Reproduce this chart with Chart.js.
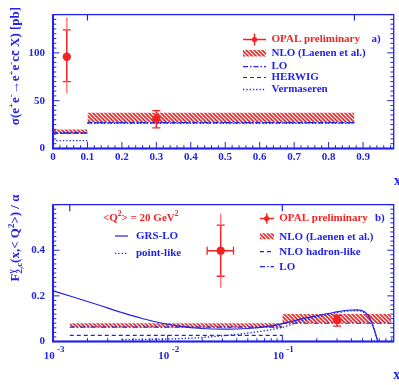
<!DOCTYPE html>
<html><head><meta charset="utf-8">
<script src="https://cdn.jsdelivr.net/npm/chart.js@4.4.1/dist/chart.umd.min.js"></script>
<style>
html,body{margin:0;padding:0;background:#fff;overflow:hidden;width:399px;height:385px}
#w1{position:absolute;left:0;top:0;width:399px;height:190px}
#w2{position:absolute;left:0;top:190px;width:399px;height:195px}
</style></head><body>
<div id="w1"><canvas id="c1"></canvas></div>
<div id="w2"><canvas id="c2"></canvas></div>
<script>
// ---------------- data: panel a) ----------------
const topBinLo   = [0, 0.1];
const topBinHi   = [0.1, 0.875];
const topNloLow  = [15.2, 27.5];
const topNloHigh = [19.8, 37.5];
const topLO      = [16.4, 27.2];
const topHerwig  = [16.0, 26.8];
const topVerm    = [8.2, 26.4];
const topOpalX   = [0.04, 0.30];
const topOpalY   = [96, 31];
const topStatLo  = [70, 21.5];
const topStatHi  = [124, 39.5];
const topTotLo   = [58, 21.5];
const topTotHi   = [137, 39.5];
const topBinEdges = [0.1, 0.875];
const topXTicks  = [0,0.1,0.2,0.3,0.4,0.5,0.6,0.7,0.8,0.9];
const topXLabels = ['0','0.1','0.2','0.3','0.4','0.5','0.6','0.7','0.8','0.9'];
const topYTicks  = [0,50,100];
const topYLabels = ['0','50','100'];

// ---------------- data: panel b) ----------------
const botBinLo   = [0.0014, 0.1];
const botBinHi   = [0.1, 0.89];
const botNloLow  = [0.061, 0.080];
const botNloHigh = [0.080, 0.121];
const botLO      = [0.063, 0.080];
const botHadron  = [0.027];
const botOpalX   = [0.029, 0.30];
const botOpalY   = [0.398, 0.094];
const botStatLo  = [0.286, 0.067];
const botStatHi  = [0.51, 0.114];
const botTotLo   = [0.235, 0.067];
const botTotHi   = [0.56, 0.114];
const botXErrLo  = [0.0221, 0.30];
const botXErrHi  = [0.0375, 0.30];
const botBinEdges = [0.0014, 0.1];
const grsX = [0.001,0.0015,0.0025,0.004,0.006,0.009,0.013,0.02,0.03,0.05,0.075,0.1,0.15,0.2,0.28,0.37,0.45,0.52,0.58,0.63,0.68];
const grsY = [0.222,0.195,0.160,0.127,0.101,0.080,0.066,0.057,0.054,0.057,0.066,0.078,0.100,0.113,0.127,0.137,0.139,0.130,0.102,0.055,0.0];
const plX  = [0.004,0.008,0.015,0.023,0.045,0.076,0.1,0.15,0.2,0.28,0.37,0.45,0.52,0.58,0.63,0.68];
const plY  = [0.008,0.010,0.014,0.020,0.034,0.050,0.062,0.092,0.108,0.123,0.133,0.135,0.127,0.100,0.054,0.0];
const botXTicks  = [0.001,0.01,0.1];
const botXExp    = ['-3','-2','-1'];
const botYTicks  = [0,0.2,0.4];
const botYLabels = ['0','0.2','0.4'];

// ---------------- styles ----------------
const BLUE = '#2222ea', RED = '#f42222', LRED = '#ff7c7c';
const FONT = "'Liberation Serif','Times New Roman',serif";
const f = (s)=>`bold ${s}px ${FONT}`;

function makeHatch(){
  const c=document.createElement('canvas'); c.width=4; c.height=4;
  const g=c.getContext('2d');
  g.strokeStyle='#f02828'; g.lineWidth=1.7;
  g.beginPath(); g.moveTo(-1,-1); g.lineTo(5,5); g.moveTo(-1,3); g.lineTo(1,5); g.moveTo(3,-1); g.lineTo(5,1); g.stroke();
  return g.createPattern(c,'repeat');
}
const HATCH = makeHatch();

const seg = (x1,y1,x2,y2)=>[{x:x1,y:y1},{x:x2,y:y2}];
function L(data,color,dash,width,order){
  return {data, borderColor:color, borderWidth:width, borderDash:dash||[], pointRadius:0,
          fill:false, tension:0, order:order===undefined?1:order};
}
function band(ds,x1,x2,lo,hi){
  ds.push(L(seg(x1,lo,x2,lo),'rgba(0,0,0,0)',[],0,20));
  const u=L(seg(x1,hi,x2,hi),'rgba(0,0,0,0)',[],0,20); u.fill='-1'; u.backgroundColor=HATCH; ds.push(u);
}
function opal(ds,x,y,sLo,sHi,tLo,tHi,xLo,xHi){
  if(tLo<sLo) ds.push(L(seg(x,tLo,x,sLo),LRED,[],1.5,0));
  if(tHi>sHi) ds.push(L(seg(x,sHi,x,tHi),LRED,[],1.5,0));
  ds.push(L(seg(x,sLo,x,sHi),RED,[],1.5,0));
  ds.push({data:seg(x,sLo,x,sHi),showLine:false,pointStyle:'line',pointRadius:4,pointBorderColor:RED,pointBorderWidth:1.3,order:0});
  if(xLo!==undefined && xLo<xHi){
    ds.push(L(seg(xLo,y,xHi,y),RED,[],1.5,0));
    ds.push({data:seg(xLo,y,xHi,y),showLine:false,pointStyle:'line',pointRotation:90,pointRadius:4,pointBorderColor:RED,pointBorderWidth:1.3,order:0});
  }
  ds.push({data:[{x,y}],showLine:false,pointRadius:4.2,pointBackgroundColor:RED,pointBorderColor:RED,pointBorderWidth:0,order:0});
}
const DASH_LO=[5,2,1.5,2], DASH_HW=[4,3], DASH_DOT=[1.3,2];

// ---------------- rich text ----------------
function drawRich(ctx,segs,x,y,size,color,align,rot){
  ctx.save(); ctx.translate(x,y); if(rot) ctx.rotate(rot);
  ctx.fillStyle=color; ctx.textBaseline='middle'; ctx.textAlign='left';
  let cx=0,pend=0; const out=[];
  for(const s of segs){
    const sz=s.v?size*0.68:size; ctx.font=f(sz);
    const w=ctx.measureText(s.t).width;
    out.push({t:s.t,sz,x:cx,dy:s.v==='u'?-size*0.36:s.v==='d'?size*0.26:0});
    if(s.stack){pend=w;} else {cx+=Math.max(w,pend); pend=0;}
  }
  const x0=align==='center'?-cx/2:align==='right'?-cx:0;
  for(const s of out){ctx.font=f(s.sz); ctx.fillText(s.t,x0+s.x,s.dy);}
  ctx.restore();
}
function sample(ctx,x1,x2,y,color,dash,w){
  ctx.save(); ctx.strokeStyle=color; ctx.lineWidth=w||1.2; ctx.setLineDash(dash||[]);
  ctx.beginPath(); ctx.moveTo(x1,y); ctx.lineTo(x2,y); ctx.stroke(); ctx.restore();
}
function txt(ctx,t,x,y,size,color,align){
  ctx.save(); ctx.font=f(size); ctx.fillStyle=color; ctx.textAlign=align||'left'; ctx.textBaseline='middle';
  ctx.fillText(t,x,y); ctx.restore();
}

function linTicks(step,major,max){const r=[];for(let i=0;i*step<=max+1e-9;i++){const v=i*step;r.push([v,Math.abs(v/major-Math.round(v/major))<1e-6]);}return r;}
function logTicks(){const r=[];for(let d=-3;d<=-1;d++)for(let k=1;k<=9;k++)r.push([k*Math.pow(10,d),k===1]);return r;}

const DECO = {};

// ---------------- frame / ticks / text plugin ----------------
const deco = {
  id:'deco',
  afterDraw(chart){
    const o=DECO[chart.canvas.id]; if(!o) return;
    const {ctx,chartArea:a}=chart, xs=chart.scales.x, ys=chart.scales.y;
    ctx.save(); ctx.strokeStyle=BLUE; ctx.lineWidth=1;
    ctx.beginPath();
    for(const [v,maj] of o.xt){
      const p=xs.getPixelForValue(v); if(p<a.left-0.5||p>a.right+0.5) continue;
      const Lg=maj?6.5:3.3; ctx.moveTo(p,a.bottom); ctx.lineTo(p,a.bottom-Lg);
    }
    for(const [v,maj] of o.yt){
      const p=ys.getPixelForValue(v); if(p<a.top||p>a.bottom) continue;
      const Lg=maj?6.5:3.3; ctx.moveTo(a.left,p); ctx.lineTo(a.left+Lg,p); ctx.moveTo(a.right,p); ctx.lineTo(a.right-Lg,p);
    }
    ctx.stroke();
    ctx.lineWidth=1.3; ctx.strokeRect(a.left,a.top,a.right-a.left,a.bottom-a.top);
    ctx.lineWidth=2; ctx.beginPath(); ctx.moveTo(a.left,a.top); ctx.lineTo(a.left,a.bottom); ctx.lineTo(a.right,a.bottom); ctx.stroke();
    ctx.restore();
    o.text(ctx,chart);
  }
};

// ---------------- chart a) ----------------
const dsA=[];
for(let i=0;i<topBinLo.length;i++) band(dsA,topBinLo[i],topBinHi[i],topNloLow[i],topNloHigh[i]);
for(let i=0;i<topBinLo.length;i++){
  dsA.push(L(seg(topBinLo[i],topVerm[i],topBinHi[i],topVerm[i]),BLUE,DASH_DOT,1.3,2));
  dsA.push(L(seg(topBinLo[i],topHerwig[i],topBinHi[i],topHerwig[i]),BLUE,DASH_HW,1.2,2));
  dsA.push(L(seg(topBinLo[i],topLO[i],topBinHi[i],topLO[i]),BLUE,DASH_LO,1.2,2));
}
for(const e of topBinEdges) dsA.push(L(seg(e,140,e,133.8),BLUE,[],1.2,1));
for(let i=0;i<topOpalX.length;i++) opal(dsA,topOpalX[i],topOpalY[i],topStatLo[i],topStatHi[i],topTotLo[i],topTotHi[i]);

function textA(ctx){
  drawRich(ctx,[{t:'σ(e'},{t:'+',v:'u'},{t:'e'},{t:'-',v:'u'},{t:'→e'},{t:'+',v:'u'},{t:'e'},{t:'-',v:'u'},{t:'cc\u0304 X) [pb]'}],
    16,66,13,BLUE,'center',-Math.PI/2);
  sample(ctx,243,266,39.5,RED,[],1.5);
  ctx.save(); ctx.strokeStyle=RED; ctx.lineWidth=1.5; ctx.beginPath(); ctx.moveTo(254.5,33.5); ctx.lineTo(254.5,45.5); ctx.stroke();
  ctx.fillStyle=RED; ctx.beginPath(); ctx.arc(254.5,39.5,2.6,0,7); ctx.fill(); ctx.restore();
  txt(ctx,'OPAL preliminary',271.5,39.5,11,RED);
  txt(ctx,'a)',371.5,39.5,11,BLUE);
  ctx.save(); ctx.fillStyle=HATCH; ctx.fillRect(243,50,23,6.5); ctx.restore();
  txt(ctx,'NLO (Laenen et al.)',271.5,53.5,11,BLUE);
  sample(ctx,243,266,66.7,BLUE,DASH_LO,1.2);
  txt(ctx,'LO',271.5,66.5,11,BLUE);
  sample(ctx,243,266,77.5,BLUE,DASH_HW,1.2);
  txt(ctx,'HERWIG',271.5,77.5,11,BLUE);
  sample(ctx,243,266,89.5,BLUE,DASH_DOT,1.3);
  txt(ctx,'Vermaseren',271.5,89.5,11,BLUE);
  ctx.save(); ctx.font=f(14); ctx.fillStyle=BLUE; ctx.textBaseline='alphabetic'; ctx.fillText('x',394,185); ctx.restore();
}
DECO.c1 = {xt:linTicks(0.02,0.1,0.99), yt:linTicks(5,50,140), text:textA};

new Chart(document.getElementById('c1'),{
  type:'line',
  data:{datasets:dsA},
  options:{
    responsive:true, maintainAspectRatio:false, animation:false,
    layout:{padding:{top:2,right:3,left:0,bottom:0}},
    elements:{point:{radius:0}},
    plugins:{legend:{display:false},tooltip:{enabled:false}},
    scales:{
      x:{type:'linear',min:0,max:0.989,grid:{display:false,drawTicks:false},border:{display:false},
        afterBuildTicks:s=>{s.ticks=topXTicks.map(v=>({value:v}));},
        afterFit:s=>{s.height=41.5;},
        ticks:{padding:2,color:BLUE,font:{family:FONT,weight:'bold',size:11},maxRotation:0,autoSkip:false,
          callback:(v,i)=>topXLabels[i]}},
      y:{type:'linear',min:0,max:140,grid:{display:false,drawTicks:false},border:{display:false},
        afterBuildTicks:s=>{s.ticks=topYTicks.map(v=>({value:v}));},
        afterFit:s=>{s.width=53;},
        ticks:{padding:8,color:BLUE,font:{family:FONT,weight:'bold',size:11},callback:(v,i)=>topYLabels[i]}}
    }
  },
  plugins:[deco]
});

// ---------------- chart b) ----------------
const dsB=[];
for(let i=0;i<botBinLo.length;i++) band(dsB,botBinLo[i],botBinHi[i],botNloLow[i],botNloHigh[i]);
for(let i=0;i<botHadron.length;i++) dsB.push(L(seg(botBinLo[i],botHadron[i],botBinHi[i],botHadron[i]),BLUE,DASH_HW,1.2,2));
for(let i=0;i<botLO.length;i++) dsB.push(L(seg(botBinLo[i],botLO[i],botBinHi[i],botLO[i]),BLUE,DASH_LO,1.2,2));
dsB.push(Object.assign(L(plX.map((x,i)=>({x,y:plY[i]})),BLUE,DASH_DOT,1.4,2),{cubicInterpolationMode:'monotone'}));
dsB.push(Object.assign(L(grsX.map((x,i)=>({x,y:grsY[i]})),BLUE,[],1.2,2),{cubicInterpolationMode:'monotone'}));
for(const e of botBinEdges) dsB.push(L(seg(e,0.599,e,0.571),BLUE,[],1.2,1));
for(let i=0;i<botOpalX.length;i++) opal(dsB,botOpalX[i],botOpalY[i],botStatLo[i],botStatHi[i],botTotLo[i],botTotHi[i],botXErrLo[i],botXErrHi[i]);

function textB(ctx,chart){
  drawRich(ctx,[{t:'F'},{t:'γ',v:'u',stack:true},{t:'2,c',v:'d'},{t:'(x,< Q'},{t:'2',v:'u'},{t:'>) / α'}],
    16,48,13,BLUE,'center',-Math.PI/2);
  const xs=chart.scales.x, b=chart.chartArea.bottom;
  botXTicks.forEach((v,i)=>{
    const p=xs.getPixelForValue(v);
    txt(ctx,'10',p+1.7,b+14.5,11,BLUE,'right');
    txt(ctx,botXExp[i],p+4,b+8,9,BLUE,'left');
  });
  drawRich(ctx,[{t:'<Q'},{t:'2',v:'u'},{t:'> = 20 GeV'},{t:'2',v:'u'}],103,28.5,11,RED,'left');
  sample(ctx,115,128,46,BLUE,[],1.2);
  txt(ctx,'GRS-LO',136,46,11,BLUE);
  sample(ctx,115,128,63.3,BLUE,DASH_DOT,1.3);
  txt(ctx,'point-like',136,63.3,11,BLUE);
  sample(ctx,260,274,28.5,RED,[],1.5);
  ctx.save(); ctx.strokeStyle=RED; ctx.lineWidth=1.5; ctx.beginPath(); ctx.moveTo(266.7,23.3); ctx.lineTo(266.7,33.5); ctx.stroke();
  ctx.fillStyle=RED; ctx.beginPath(); ctx.arc(266.7,28.5,2.6,0,7); ctx.fill(); ctx.restore();
  txt(ctx,'OPAL preliminary',279.3,28.5,11,RED);
  txt(ctx,'b)',375,28.5,11,BLUE);
  ctx.save(); ctx.fillStyle=HATCH; ctx.fillRect(260,43.3,14,6); ctx.restore();
  txt(ctx,'NLO (Laenen et al.)',279.3,46.7,11,BLUE);
  sample(ctx,260,274,61.7,BLUE,DASH_HW,1.2);
  txt(ctx,'NLO hadron-like',279.3,61.7,11,BLUE);
  sample(ctx,260,274,76.7,BLUE,DASH_LO,1.2);
  txt(ctx,'LO',279.3,76.7,11,BLUE);
  ctx.save(); ctx.font=f(14); ctx.fillStyle=BLUE; ctx.textBaseline='alphabetic'; ctx.fillText('x',393.3,189.3); ctx.restore();
}
DECO.c2 = {xt:logTicks(), yt:linTicks(0.02,0.2,0.6), text:textB};

new Chart(document.getElementById('c2'),{
  type:'line',
  data:{datasets:dsB},
  options:{
    responsive:true, maintainAspectRatio:false, animation:false,
    layout:{padding:{top:3,right:2.5,left:0,bottom:0}},
    elements:{point:{radius:0}},
    plugins:{legend:{display:false},tooltip:{enabled:false}},
    scales:{
      x:{type:'logarithmic',min:0.001,max:0.936,grid:{display:false,drawTicks:false},border:{display:false},
        afterBuildTicks:s=>{s.ticks=botXTicks.map(v=>({value:v}));},
        afterFit:s=>{s.height=43.5;},
        ticks:{display:false}},
      y:{type:'linear',min:0,max:0.6,grid:{display:false,drawTicks:false},border:{display:false},
        afterBuildTicks:s=>{s.ticks=botYTicks.map(v=>({value:v}));},
        afterFit:s=>{s.width=53;},
        ticks:{padding:8,color:BLUE,font:{family:FONT,weight:'bold',size:11},callback:(v,i)=>botYLabels[i]}}
    }
  },
  plugins:[deco]
});
</script>
</body></html>
